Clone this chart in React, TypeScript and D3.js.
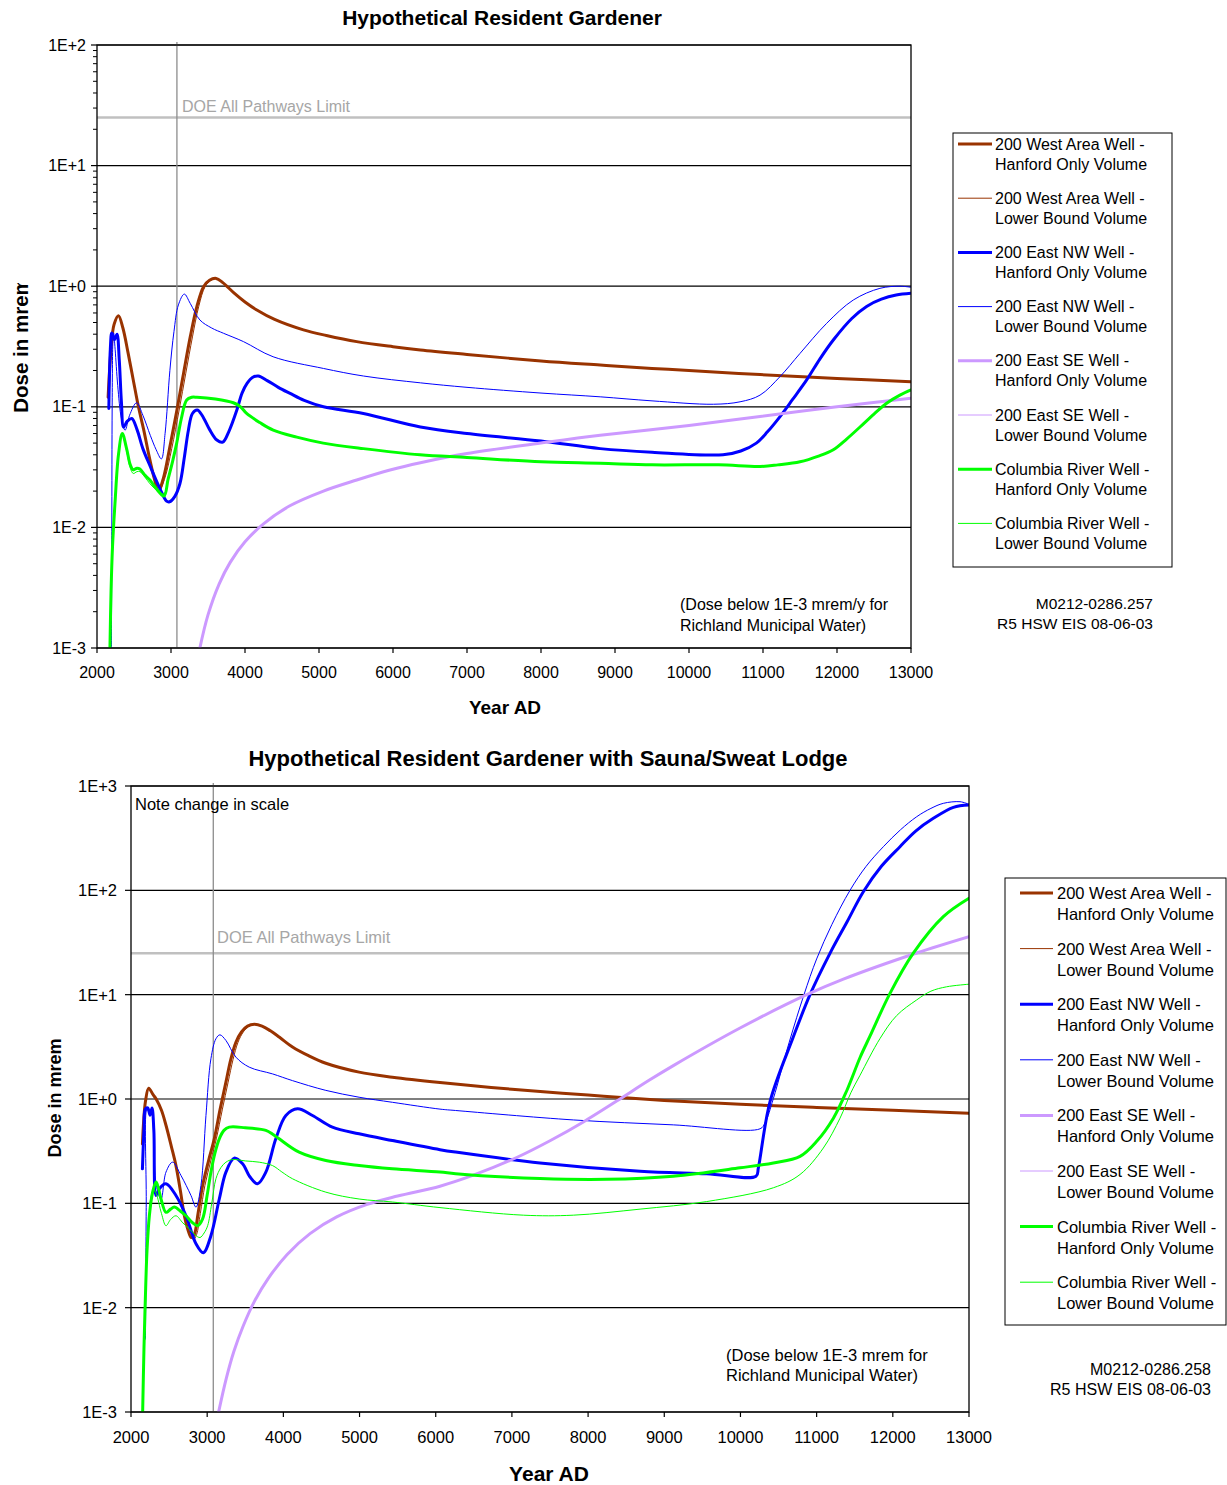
import * as d3 from "d3";
import { useEffect } from "react";

type Pt = [number, number];

// ---- data (year AD, dose in mrem) ----

const yearTicks = [2000, 3000, 4000, 5000, 6000, 7000, 8000, 9000, 10000, 11000, 12000, 13000];
const topDecades = [1e-3, 1e-2, 1e-1, 1, 10, 100];
const topDecadeLabels = ["1E-3", "1E-2", "1E-1", "1E+0", "1E+1", "1E+2"];
const bottomDecades = [1e-3, 1e-2, 1e-1, 1, 10, 100, 1000];
const bottomDecadeLabels = ["1E-3", "1E-2", "1E-1", "1E+0", "1E+1", "1E+2", "1E+3"];

const doeLimit = 25;
const complianceYear = 3080;

const seriesLabels: [string, string][] = [
  ["200 West Area Well -", "Hanford Only Volume"],
  ["200 West Area Well -", "Lower Bound Volume"],
  ["200 East NW Well -", "Hanford Only Volume"],
  ["200 East NW Well -", "Lower Bound Volume"],
  ["200 East SE Well -", "Hanford Only Volume"],
  ["200 East SE Well -", "Lower Bound Volume"],
  ["Columbia River Well -", "Hanford Only Volume"],
  ["Columbia River Well -", "Lower Bound Volume"],
];

// Resident gardener
const topWestHanford: Pt[] = [
  [2150, 0.12], [2190, 0.3], [2230, 0.48], [2290, 0.57], [2350, 0.45], [2420, 0.28], [2490, 0.167],
  [2560, 0.1], [2630, 0.065], [2700, 0.04], [2770, 0.026], [2830, 0.02], [2900, 0.026], [2980, 0.045],
  [3080, 0.094], [3170, 0.19], [3260, 0.38], [3350, 0.68], [3440, 0.99], [3520, 1.12], [3610, 1.16],
  [3700, 1.07], [3850, 0.88], [4000, 0.74], [4160, 0.635], [4400, 0.53], [4790, 0.434], [5100, 0.39],
  [5510, 0.347], [6000, 0.315], [6370, 0.296], [7000, 0.272], [8000, 0.24], [8800, 0.222],
  [9500, 0.208], [10000, 0.2], [10960, 0.185], [12000, 0.172], [13000, 0.161],
];
const topWestLower: Pt[] = [
  [2150, 0.12], [2190, 0.3], [2230, 0.48], [2290, 0.57], [2350, 0.45], [2420, 0.28], [2490, 0.167],
  [2560, 0.1], [2630, 0.065], [2700, 0.04], [2770, 0.027], [2840, 0.02], [2920, 0.026], [3010, 0.045],
  [3110, 0.094], [3200, 0.19], [3290, 0.38], [3375, 0.68], [3460, 0.99], [3540, 1.12], [3620, 1.16],
  [3700, 1.07], [3850, 0.88], [4000, 0.74], [4160, 0.635], [4400, 0.53], [4790, 0.434], [5100, 0.39],
  [5510, 0.347], [6000, 0.315], [6370, 0.296], [7000, 0.272], [8000, 0.24], [8800, 0.222],
  [9500, 0.208], [10000, 0.2], [10960, 0.185], [12000, 0.172], [13000, 0.161],
];
const topEastNWHanford: Pt[] = [
  [2160, 0.097], [2180, 0.3], [2200, 0.41], [2235, 0.36], [2270, 0.4], [2300, 0.25], [2330, 0.11],
  [2360, 0.068], [2410, 0.076], [2470, 0.08], [2540, 0.065], [2620, 0.045], [2720, 0.032], [2850, 0.021],
  [2940, 0.0165], [2980, 0.0163], [3050, 0.018], [3120, 0.023], [3180, 0.038], [3235, 0.064],
  [3290, 0.088], [3355, 0.094], [3420, 0.085], [3520, 0.065], [3620, 0.053], [3700, 0.051],
  [3780, 0.062], [3890, 0.094], [3960, 0.13], [4030, 0.157], [4100, 0.175], [4180, 0.18], [4300, 0.165],
  [4450, 0.145], [4610, 0.129], [4800, 0.113], [5060, 0.1], [5600, 0.088], [6370, 0.068], [7000, 0.06],
  [8000, 0.052], [8800, 0.045], [9500, 0.042], [10460, 0.04], [10700, 0.043], [10910, 0.05],
  [11060, 0.062], [11230, 0.083], [11400, 0.115], [11590, 0.167], [11770, 0.25], [11950, 0.358],
  [12200, 0.54], [12400, 0.68], [12600, 0.78], [12800, 0.845], [13000, 0.873],
];
const topEastNWLower: Pt[] = [
  [2195, 0.001], [2200, 0.01], [2205, 0.1], [2215, 0.35], [2225, 0.41], [2245, 0.3], [2280, 0.15],
  [2330, 0.08], [2380, 0.064], [2440, 0.085], [2535, 0.108], [2620, 0.085], [2720, 0.058], [2800, 0.044],
  [2870, 0.037], [2920, 0.06], [2985, 0.2], [3040, 0.42], [3100, 0.7], [3180, 0.86], [3260, 0.72],
  [3390, 0.525], [3550, 0.45], [3710, 0.407], [3980, 0.347], [4380, 0.26], [5060, 0.208], [5600, 0.18],
  [6370, 0.158], [7000, 0.145], [8000, 0.13], [8800, 0.121], [9500, 0.112], [10330, 0.105],
  [10690, 0.11], [10960, 0.125], [11230, 0.178], [11500, 0.277], [11860, 0.492], [12220, 0.768],
  [12580, 0.96], [12850, 1.0], [13000, 0.98],
];
const topEastSEHanford: Pt[] = [
  [3390, 0.001], [3500, 0.00188], [3650, 0.00339], [3800, 0.00513], [4000, 0.00759], [4250, 0.0107],
  [4600, 0.01503], [5060, 0.02], [5510, 0.0247], [5960, 0.0299], [6370, 0.0344], [7000, 0.041],
  [8000, 0.05], [8800, 0.058], [10000, 0.07], [10960, 0.083], [12000, 0.1], [13000, 0.118],
];
const topEastSELower: Pt[] = [
  [3390, 0.001], [3500, 0.00188], [3650, 0.00339], [3800, 0.00513], [4000, 0.00759], [4250, 0.0107],
  [4600, 0.01503], [5060, 0.02], [5510, 0.0247], [5960, 0.0299], [6370, 0.0344], [7000, 0.041],
  [8000, 0.05], [8800, 0.058], [10000, 0.07], [10960, 0.083], [12000, 0.1], [13000, 0.118],
];
const topColumbiaHanford: Pt[] = [
  [2175, 0.001], [2190, 0.003], [2210, 0.007], [2243, 0.0158], [2290, 0.04], [2342, 0.06], [2400, 0.045],
  [2450, 0.033], [2490, 0.03], [2540, 0.031], [2580, 0.0305], [2650, 0.027], [2716, 0.0247],
  [2800, 0.021], [2905, 0.0182], [2960, 0.025], [3020, 0.035], [3077, 0.05], [3140, 0.08], [3212, 0.114],
  [3280, 0.12], [3350, 0.12], [3600, 0.116], [3842, 0.108], [3940, 0.1], [4022, 0.088], [4200, 0.074],
  [4382, 0.064], [4700, 0.056], [5058, 0.05], [5600, 0.045], [6365, 0.04], [7000, 0.038], [8000, 0.035],
  [8800, 0.034], [9500, 0.033], [10400, 0.033], [10960, 0.032], [11200, 0.033], [11500, 0.035],
  [11750, 0.039], [11950, 0.044], [12130, 0.054], [12311, 0.068], [12500, 0.087], [12671, 0.107],
  [12850, 0.125], [13000, 0.138],
];
const topColumbiaLower: Pt[] = [
  [2175, 0.001], [2190, 0.003], [2210, 0.007], [2243, 0.0158], [2290, 0.04], [2342, 0.058], [2400, 0.043],
  [2450, 0.031], [2490, 0.028], [2540, 0.029], [2580, 0.029], [2650, 0.026], [2716, 0.023],
  [2800, 0.0205], [2905, 0.019], [2960, 0.025], [3020, 0.035], [3077, 0.05], [3140, 0.08], [3212, 0.114],
  [3280, 0.12], [3350, 0.12], [3600, 0.116], [3842, 0.108], [3940, 0.1], [4022, 0.088], [4200, 0.074],
  [4382, 0.064], [4700, 0.056], [5058, 0.05], [5600, 0.045], [6365, 0.04], [7000, 0.038], [8000, 0.035],
  [8800, 0.034], [9500, 0.033], [10400, 0.033], [10960, 0.032], [11200, 0.033], [11500, 0.035],
  [11750, 0.039], [11950, 0.044], [12130, 0.054], [12311, 0.068], [12500, 0.087], [12671, 0.107],
  [12850, 0.125], [13000, 0.138],
];

// Resident gardener with sauna/sweat lodge
const botWestHanford: Pt[] = [
  [2150, 0.37], [2190, 0.95], [2232, 1.27], [2290, 1.1], [2330, 1.0], [2400, 0.78], [2460, 0.557],
  [2530, 0.35], [2590, 0.23], [2650, 0.13], [2700, 0.076], [2750, 0.055], [2790, 0.047], [2830, 0.05],
  [2880, 0.08], [2940, 0.148], [3020, 0.26], [3093, 0.415], [3170, 0.8], [3246, 1.45], [3310, 2.4],
  [3377, 3.5], [3450, 4.4], [3530, 5.0], [3620, 5.2], [3720, 5.0], [3830, 4.5], [3950, 3.9], [4120, 3.15],
  [4330, 2.6], [4557, 2.2], [4994, 1.81], [5431, 1.62], [6056, 1.44], [7000, 1.24], [8000, 1.09],
  [9000, 0.97], [10000, 0.89], [11000, 0.83], [12000, 0.78], [13000, 0.73],
];
const botWestLower: Pt[] = [
  [2150, 0.37], [2190, 0.95], [2232, 1.27], [2290, 1.1], [2330, 1.0], [2400, 0.78], [2460, 0.557],
  [2530, 0.35], [2590, 0.23], [2650, 0.13], [2700, 0.076], [2760, 0.052], [2820, 0.045], [2860, 0.05],
  [2910, 0.08], [2970, 0.148], [3050, 0.26], [3120, 0.415], [3200, 0.8], [3275, 1.45], [3340, 2.4],
  [3405, 3.5], [3475, 4.4], [3550, 5.0], [3630, 5.2], [3720, 5.0], [3830, 4.5], [3950, 3.9], [4120, 3.15],
  [4330, 2.6], [4557, 2.2], [4994, 1.81], [5431, 1.62], [6056, 1.44], [7000, 1.24], [8000, 1.09],
  [9000, 0.97], [10000, 0.89], [11000, 0.83], [12000, 0.78], [13000, 0.73],
];
const botEastNWHanford: Pt[] = [
  [2150, 0.214], [2170, 0.5], [2188, 0.8], [2219, 0.82], [2250, 0.7], [2276, 0.82], [2300, 0.5],
  [2328, 0.119], [2372, 0.138], [2459, 0.154], [2590, 0.119], [2722, 0.076], [2853, 0.041],
  [2949, 0.0336], [3049, 0.049], [3159, 0.11], [3246, 0.199], [3355, 0.271], [3465, 0.239], [3560, 0.18],
  [3661, 0.154], [3770, 0.199], [3901, 0.415], [4033, 0.695], [4186, 0.805], [4382, 0.695], [4644, 0.537],
  [4994, 0.464], [5431, 0.4], [6056, 0.327], [6261, 0.31], [7369, 0.244], [8682, 0.203], [9557, 0.192],
  [10204, 0.182], [10235, 0.219], [10388, 0.944], [10686, 3.8], [10913, 10], [11175, 24.9], [11400, 50],
  [11613, 97], [11850, 170], [12094, 262], [12300, 370], [12532, 490], [12795, 625], [13000, 658],
];
const botEastNWLower: Pt[] = [
  [2190, 0.005], [2200, 0.1], [2210, 0.8], [2240, 0.75], [2270, 0.8], [2300, 0.4], [2330, 0.15],
  [2394, 0.11], [2459, 0.199], [2546, 0.248], [2656, 0.185], [2787, 0.119], [2853, 0.092], [2918, 0.148],
  [2984, 0.695], [3049, 2.43], [3115, 3.78], [3167, 4.12], [3246, 3.64], [3377, 2.52], [3552, 2.02],
  [3858, 1.74], [4120, 1.5], [4557, 1.21], [4994, 1.04], [5431, 0.93], [6056, 0.8], [6261, 0.776],
  [7806, 0.63], [9119, 0.565], [10257, 0.518], [10323, 0.59], [10432, 1.01], [10640, 3.5], [10834, 10],
  [11000, 22], [11200, 47], [11438, 100], [11650, 170], [11876, 262], [12100, 380], [12314, 508],
  [12500, 610], [12663, 682], [12882, 707], [13000, 668],
];
const botEastSEHanford: Pt[] = [
  [3150, 0.001], [3250, 0.00209], [3350, 0.0038], [3470, 0.0066], [3620, 0.0115], [3800, 0.019],
  [4050, 0.0324], [4350, 0.0513], [4700, 0.0741], [5100, 0.0977], [5500, 0.1175], [6056, 0.146],
  [6494, 0.186], [7062, 0.275], [7500, 0.398], [7938, 0.603], [8375, 0.955], [8800, 1.51], [9119, 2.09],
  [9995, 4.79], [10870, 10], [11351, 14.1], [12313, 25.1], [13000, 36],
];
const botEastSELower: Pt[] = [
  [3150, 0.001], [3250, 0.00209], [3350, 0.0038], [3470, 0.0066], [3620, 0.0115], [3800, 0.019],
  [4050, 0.0324], [4350, 0.0513], [4700, 0.0741], [5100, 0.0977], [5500, 0.1175], [6056, 0.146],
  [6494, 0.186], [7062, 0.275], [7500, 0.398], [7938, 0.603], [8375, 0.955], [8800, 1.51], [9119, 2.09],
  [9995, 4.79], [10870, 10], [11351, 14.1], [12313, 25.1], [13000, 36],
];
const botColumbiaHanford: Pt[] = [
  [2153, 0.001], [2170, 0.004], [2188, 0.012], [2210, 0.035], [2241, 0.076], [2284, 0.128], [2328, 0.16],
  [2360, 0.14], [2394, 0.11], [2459, 0.082], [2520, 0.088], [2568, 0.092], [2650, 0.084], [2722, 0.076],
  [2800, 0.066], [2874, 0.061], [2940, 0.071], [3000, 0.12], [3049, 0.199], [3100, 0.3], [3159, 0.415],
  [3220, 0.5], [3290, 0.537], [3500, 0.53], [3770, 0.5], [3860, 0.46], [3945, 0.415], [4207, 0.309],
  [4557, 0.257], [4994, 0.23], [5431, 0.214], [6056, 0.2], [6261, 0.192], [7369, 0.173], [8244, 0.17],
  [9119, 0.182], [9995, 0.219], [10432, 0.244], [10782, 0.282], [11001, 0.393], [11220, 0.655],
  [11395, 1.2], [11570, 2.5], [11700, 4.0], [11963, 10.3], [12269, 25], [12663, 56], [13000, 84],
];
const botColumbiaLower: Pt[] = [
  [2153, 0.001], [2170, 0.004], [2188, 0.012], [2210, 0.035], [2240, 0.08], [2263, 0.115], [2300, 0.135],
  [2330, 0.125], [2400, 0.08], [2459, 0.061], [2520, 0.07], [2590, 0.076], [2680, 0.065], [2765, 0.057],
  [2840, 0.05], [2905, 0.047], [2960, 0.052], [3006, 0.061], [3060, 0.1], [3115, 0.172], [3180, 0.22],
  [3246, 0.248], [3334, 0.263], [3500, 0.255], [3683, 0.248], [3858, 0.23], [3980, 0.2], [4120, 0.172],
  [4557, 0.128], [4994, 0.11], [5431, 0.103], [6056, 0.091], [7150, 0.077], [7806, 0.077], [8682, 0.088],
  [9557, 0.104], [10432, 0.141], [10782, 0.189], [11088, 0.339], [11307, 0.655], [11450, 1.15],
  [11570, 1.69], [11832, 3.8], [12050, 6.3], [12313, 8.9], [12500, 10.8], [12706, 11.9], [13000, 12.6],
];

const topSeries = [
  topWestHanford, topWestLower, topEastNWHanford, topEastNWLower,
  topEastSEHanford, topEastSELower, topColumbiaHanford, topColumbiaLower,
];
const bottomSeries = [
  botWestHanford, botWestLower, botEastNWHanford, botEastNWLower,
  botEastSEHanford, botEastSELower, botColumbiaHanford, botColumbiaLower,
];

// ---- styling / layout ----

const FONT = "'Liberation Sans', Arial, Helvetica, sans-serif";
const seriesColor = ["#993300", "#993300", "#0000ff", "#0000ff", "#cc99ff", "#cc99ff", "#00ff00", "#00ff00"];
const seriesWidth = [3, 1, 3, 1, 3, 1, 3, 1];

interface ChartCfg {
  id: string;
  title: string;
  series: Pt[][];
  decades: number[];
  decadeLabels: string[];
  minorTicks: boolean;
  box: { left: number; right: number; top: number; bottom: number };
  font: number;
  titleFont: number;
  titlePos: [number, number];
  xTitleFont: number;
  xTitlePos: [number, number];
  yTitleFont: number;
  yTitlePos: [number, number];
  yTitleClip?: number;
  xLabelY: number;
  yLabelX: number;
  doeLabel: [number, number];
  note?: [number, number];
  annotation: { x: number; y: number[]; lines: string[] };
  refs: { x: number; y: number[]; lines: string[] };
  legend: { x: number; y: number; w: number; h: number; y0: number; step: number; l1: number; l2: number; tx: number; gap: number };
}

const charts: ChartCfg[] = [
  {
    id: "top",
    title: "Hypothetical Resident Gardener",
    series: topSeries,
    decades: topDecades,
    decadeLabels: topDecadeLabels,
    minorTicks: true,
    box: { left: 97, right: 911, top: 45, bottom: 648 },
    font: 16,
    titleFont: 21,
    titlePos: [502, 17],
    xTitleFont: 19,
    xTitlePos: [505, 707],
    yTitleFont: 20.5,
    yTitlePos: [20, 345],
    yTitleClip: 283,
    xLabelY: 672,
    yLabelX: 86,
    doeLabel: [182, 106],
    annotation: { x: 680, y: [604, 625], lines: ["(Dose below 1E-3 mrem/y for", "Richland Municipal Water)"] },
    refs: { x: 1153, y: [603, 623], lines: ["M0212-0286.257", "R5 HSW EIS 08-06-03"] },
    legend: { x: 953, y: 133, w: 219, h: 434, y0: 144, step: 54.2, l1: 958, l2: 992, tx: 995, gap: 20 },
  },
  {
    id: "bottom",
    title: "Hypothetical Resident Gardener with Sauna/Sweat Lodge",
    series: bottomSeries,
    decades: bottomDecades,
    decadeLabels: bottomDecadeLabels,
    minorTicks: false,
    box: { left: 131, right: 969, top: 786, bottom: 1412 },
    font: 16.5,
    titleFont: 22,
    titlePos: [548, 758],
    xTitleFont: 21,
    xTitlePos: [549, 1473],
    yTitleFont: 18,
    yTitlePos: [55, 1098],
    xLabelY: 1437,
    yLabelX: 117,
    doeLabel: [217, 937],
    note: [135, 804],
    annotation: { x: 726, y: [1355, 1375], lines: ["(Dose below 1E-3 mrem for", "Richland Municipal Water)"] },
    refs: { x: 1211, y: [1369, 1389], lines: ["M0212-0286.258", "R5 HSW EIS 08-06-03"] },
    legend: { x: 1005, y: 878, w: 221, h: 447, y0: 893, step: 55.6, l1: 1020, l2: 1053, tx: 1057, gap: 21 },
  },
];

function isDecade(v: number) {
  const l = Math.log10(v);
  return Math.abs(l - Math.round(l)) < 1e-6;
}

function DoseChart({ cfg }: { cfg: ChartCfg }) {
  const { box, legend } = cfg;
  const x = d3.scaleLinear().domain([2000, 13000]).range([box.left, box.right]);
  const y = d3
    .scaleLog()
    .domain([cfg.decades[0], cfg.decades[cfg.decades.length - 1]])
    .range([box.bottom, box.top]);
  const line = d3
    .line<Pt>()
    .x((d) => x(d[0]))
    .y((d) => y(d[1]))
    .curve(d3.curveCatmullRom.alpha(0.5));
  const minor = cfg.minorTicks ? y.ticks().filter((v) => !isDecade(v)) : [];
  const clipId = `plot-${cfg.id}`;
  const yClipId = `ytitle-${cfg.id}`;

  return (
    <g fontFamily={FONT}>
      <defs>
        <clipPath id={clipId}>
          <rect x={box.left} y={box.top} width={box.right - box.left} height={box.bottom - box.top} />
        </clipPath>
        {cfg.yTitleClip != null ? (
          <clipPath id={yClipId}>
            <rect x={0} y={cfg.yTitleClip} width={60} height={400} />
          </clipPath>
        ) : null}
      </defs>

      <text x={cfg.titlePos[0]} y={cfg.titlePos[1]} textAnchor="middle" dominantBaseline="central" fontSize={cfg.titleFont} fontWeight="bold">
        {cfg.title}
      </text>

      {/* gridlines */}
      {cfg.decades.map((v) => (
        <line key={`g-${v}`} x1={box.left} x2={box.right} y1={y(v)} y2={y(v)} stroke="#000" strokeWidth={1.2} />
      ))}

      {/* DOE limit */}
      <line x1={box.left} x2={box.right} y1={y(doeLimit)} y2={y(doeLimit)} stroke="#c0c0c0" strokeWidth={2.5} />
      <text x={cfg.doeLabel[0]} y={cfg.doeLabel[1]} dominantBaseline="central" fontSize={cfg.font} fill="#a6a6a6">
        DOE All Pathways Limit
      </text>

      {/* compliance year */}
      <line x1={x(complianceYear)} x2={x(complianceYear)} y1={box.top - 3} y2={box.bottom - 1} stroke="#8c8c8c" strokeWidth={1.3} />

      {/* series */}
      <g clipPath={`url(#${clipId})`}>
        {cfg.series.map((s, i) => (
          <path key={i} d={line(s) ?? ""} fill="none" stroke={seriesColor[i]} strokeWidth={seriesWidth[i]} strokeLinejoin="round" strokeLinecap="round" />
        ))}
      </g>

      {/* frame */}
      <rect x={box.left} y={box.top} width={box.right - box.left} height={box.bottom - box.top} fill="none" stroke="#000" strokeWidth={1.3} />

      {/* y axis ticks */}
      {cfg.decades.map((v, i) => (
        <g key={`y-${v}`}>
          <line x1={box.left - 6} x2={box.left} y1={y(v)} y2={y(v)} stroke="#000" strokeWidth={1.2} />
          <text x={cfg.yLabelX} y={y(v)} textAnchor="end" dominantBaseline="central" fontSize={cfg.font}>
            {cfg.decadeLabels[i]}
          </text>
        </g>
      ))}
      {minor.map((v) => (
        <line key={`m-${v}`} x1={box.left - 4} x2={box.left} y1={y(v)} y2={y(v)} stroke="#000" strokeWidth={1} />
      ))}

      {/* x axis ticks */}
      {yearTicks.map((t) => (
        <g key={`x-${t}`}>
          <line x1={x(t)} x2={x(t)} y1={box.bottom} y2={box.bottom + 5} stroke="#000" strokeWidth={1.2} />
          <text x={x(t)} y={cfg.xLabelY} textAnchor="middle" dominantBaseline="central" fontSize={cfg.font}>
            {t}
          </text>
        </g>
      ))}

      <text x={cfg.xTitlePos[0]} y={cfg.xTitlePos[1]} textAnchor="middle" dominantBaseline="central" fontSize={cfg.xTitleFont} fontWeight="bold">
        Year AD
      </text>
      <g clipPath={cfg.yTitleClip != null ? `url(#${yClipId})` : undefined}>
        <text
          transform={`translate(${cfg.yTitlePos[0]}, ${cfg.yTitlePos[1]}) rotate(-90)`}
          textAnchor="middle"
          dominantBaseline="central"
          fontSize={cfg.yTitleFont}
          fontWeight="bold"
        >
          Dose in mrem
        </text>
      </g>

      {cfg.note ? (
        <text x={cfg.note[0]} y={cfg.note[1]} dominantBaseline="central" fontSize={cfg.font}>
          Note change in scale
        </text>
      ) : null}

      {cfg.annotation.lines.map((t, i) => (
        <text key={`a-${i}`} x={cfg.annotation.x} y={cfg.annotation.y[i]} dominantBaseline="central" fontSize={cfg.font}>
          {t}
        </text>
      ))}
      {cfg.refs.lines.map((t, i) => (
        <text key={`r-${i}`} x={cfg.refs.x} y={cfg.refs.y[i]} textAnchor="end" dominantBaseline="central" fontSize={cfg.font - 0.5}>
          {t}
        </text>
      ))}

      {/* legend */}
      <rect x={legend.x} y={legend.y} width={legend.w} height={legend.h} fill="#fff" stroke="#000" strokeWidth={1} />
      {seriesLabels.map((lab, i) => {
        const ly = legend.y0 + i * legend.step;
        return (
          <g key={`l-${i}`}>
            <line x1={legend.l1} x2={legend.l2} y1={ly} y2={ly} stroke={seriesColor[i]} strokeWidth={seriesWidth[i]} />
            <text x={legend.tx} y={ly} dominantBaseline="central" fontSize={cfg.font}>
              {lab[0]}
            </text>
            <text x={legend.tx} y={ly + legend.gap} dominantBaseline="central" fontSize={cfg.font}>
              {lab[1]}
            </text>
          </g>
        );
      })}
    </g>
  );
}

export default function App() {
  useEffect(() => {
    document.body.style.margin = "0";
    document.body.style.overflow = "hidden";
  }, []);

  return (
    <svg width={1227} height={1485} viewBox="0 0 1227 1485" style={{ display: "block", background: "#fff", position: "absolute", left: 0, top: 0 }}>
      <rect width={1227} height={1485} fill="#fff" />
      {charts.map((c) => (
        <DoseChart key={c.id} cfg={c} />
      ))}
    </svg>
  );
}
